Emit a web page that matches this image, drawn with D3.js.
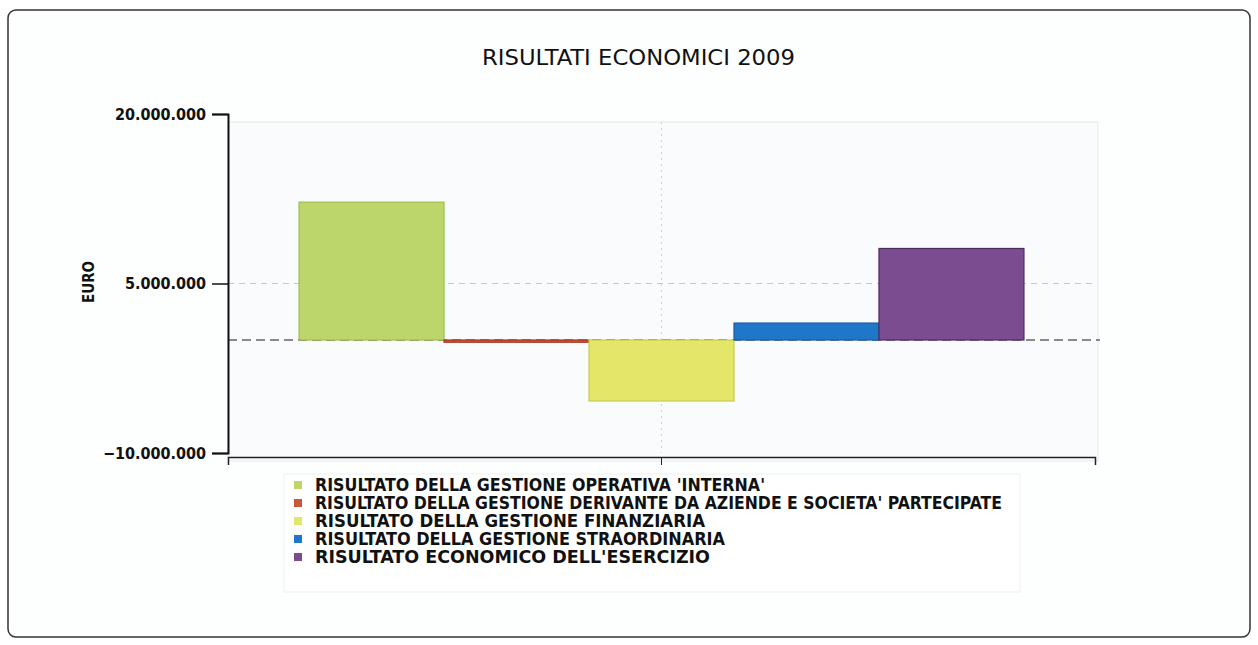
<!DOCTYPE html>
<html>
<head>
<meta charset="utf-8">
<script src="https://cdn.jsdelivr.net/npm/d3@7"></script>
<style>
  body { margin: 0; background: #fff; }
  svg { display: block; }
</style>
</head>
<body>
<div id="chart"></div>
<script>
const categories = ["2009"];
const seriesNames = [
  "RISULTATO DELLA GESTIONE OPERATIVA 'INTERNA'",
  "RISULTATO DELLA GESTIONE DERIVANTE DA AZIENDE E SOCIETA' PARTECIPATE",
  "RISULTATO DELLA GESTIONE FINANZIARIA",
  "RISULTATO DELLA GESTIONE STRAORDINARIA",
  "RISULTATO ECONOMICO DELL'ESERCIZIO"
];
const seriesValues = [12200000, -200000, -5400000, 1500000, 8100000];
const seriesColors = ["#bcd66c", "#c8573c", "#e4e66a", "#1f77c9", "#7b4c90"];
const seriesStrokes = ["#9fbf4c", "#a83a24", "#c9cb4a", "#175da3", "#4d2c62"];
const yTicks = [20000000, 5000000, -10000000];
// legend text widths (px)
const legendWidths = [450, 687, 390, 410, 395];

const width = 1258, height = 645;
const plot = { left: 228, right: 1095, top: 114, bottom: 453 };
const font = "DejaVu Sans Condensed, DejaVu Sans, sans-serif";

const svg = d3.select("#chart").append("svg")
  .attr("width", width).attr("height", height);

// outer frame
svg.append("rect")
  .attr("x", 8).attr("y", 10).attr("width", 1242).attr("height", 627)
  .attr("rx", 8)
  .attr("fill", "#fdfefe").attr("stroke", "#333").attr("stroke-width", 1.5);

// title
svg.append("text")
  .attr("x", 482).attr("y", 65)
  .attr("font-family", font)
  .attr("font-size", 21)
  .attr("fill", "#111")
  .attr("textLength", 313).attr("lengthAdjust", "spacingAndGlyphs")
  .text("RISULTATI ECONOMICI 2009");

const y = d3.scaleLinear().domain([-10000000, 20000000]).range([plot.bottom, plot.top]);
const x0 = d3.scaleBand().domain(categories).range([plot.left, plot.right]).paddingInner(0).paddingOuter(0.098);
const x1 = d3.scaleBand().domain(seriesNames).range([0, x0.bandwidth()]).padding(0);

// plot background panel
svg.append("rect")
  .attr("x", plot.left).attr("y", plot.top + 8)
  .attr("width", plot.right - plot.left + 3).attr("height", plot.bottom - plot.top)
  .attr("fill", "#fafbfc").attr("stroke", "#e6e8ea");

// grid: 5M dashed
svg.append("line")
  .attr("x1", plot.left).attr("x2", plot.right)
  .attr("y1", y(5000000)).attr("y2", y(5000000))
  .attr("stroke", "#c8c8c8").attr("stroke-dasharray", "6,5").attr("stroke-width", 1.2);

// vertical dotted grid at category center
svg.append("line")
  .attr("x1", x0("2009") + x0.bandwidth() / 2).attr("x2", x0("2009") + x0.bandwidth() / 2)
  .attr("y1", plot.top + 8).attr("y2", plot.bottom)
  .attr("stroke", "#d0d0d0").attr("stroke-dasharray", "2,4");

// zero dashed line
svg.append("line")
  .attr("x1", plot.left).attr("x2", plot.right + 5)
  .attr("y1", y(0)).attr("y2", y(0))
  .attr("stroke", "#666").attr("stroke-dasharray", "9,5").attr("stroke-width", 1.4);

// bars
const g = svg.append("g").attr("transform", `translate(${x0("2009")},0)`);
g.selectAll("rect.bar")
  .data(seriesValues)
  .enter().append("rect")
  .attr("class", "bar")
  .attr("x", (d, i) => x1(seriesNames[i]))
  .attr("y", d => y(Math.max(0, d)))
  .attr("width", x1.bandwidth())
  .attr("height", d => Math.abs(y(d) - y(0)))
  .attr("fill", (d, i) => seriesColors[i])
  .attr("stroke", (d, i) => seriesStrokes[i])
  .attr("stroke-width", 1.2);

// y axis
const yAxis = d3.axisLeft(y)
  .tickValues(yTicks)
  .tickSize(16)
  .tickPadding(6)
  .tickFormat(d => d3.format(",")(d).replace(/,/g, "."));
const ya = svg.append("g").attr("transform", `translate(${plot.left},0)`).call(yAxis);
ya.select(".domain").attr("stroke", "#111").attr("stroke-width", 2);
ya.selectAll(".tick line").attr("stroke", "#111").attr("stroke-width", 1.5);
ya.selectAll(".tick text")
  .attr("font-family", font)
  .attr("font-size", 16).attr("font-weight", "bold").attr("fill", "#111");

// x axis
const xAxis = d3.axisBottom(x0).tickSize(8).tickFormat("");
const xa = svg.append("g").attr("transform", `translate(0,${plot.bottom + 4})`).call(xAxis);
xa.select(".domain").attr("stroke", "#222").attr("stroke-width", 1.5);
xa.selectAll(".tick line").attr("stroke", "#222");

// axis title
svg.append("text")
  .attr("transform", `translate(94,282) rotate(-90)`)
  .attr("text-anchor", "middle")
  .attr("font-family", font)
  .attr("font-size", 15).attr("font-weight", "bold").attr("fill", "#111")
  .text("EURO");

// legend
const lg = svg.append("g").attr("transform", "translate(284,474)");
lg.append("rect")
  .attr("width", 736).attr("height", 118)
  .attr("fill", "#fff").attr("stroke", "#f0f0f0");
const item = lg.selectAll("g.item")
  .data(seriesNames)
  .enter().append("g")
  .attr("class", "item")
  .attr("transform", (d, i) => `translate(0,${17 + i * 18})`);
item.append("rect")
  .attr("x", 10).attr("y", -10).attr("width", 8).attr("height", 8)
  .attr("fill", (d, i) => seriesColors[i]);
item.append("text")
  .attr("x", 31).attr("y", 0)
  .attr("font-family", font)
  .attr("font-size", 17).attr("font-weight", "bold").attr("fill", "#111")
  .attr("textLength", (d, i) => legendWidths[i])
  .attr("lengthAdjust", "spacingAndGlyphs")
  .text(d => d);
</script>
</body>
</html>
